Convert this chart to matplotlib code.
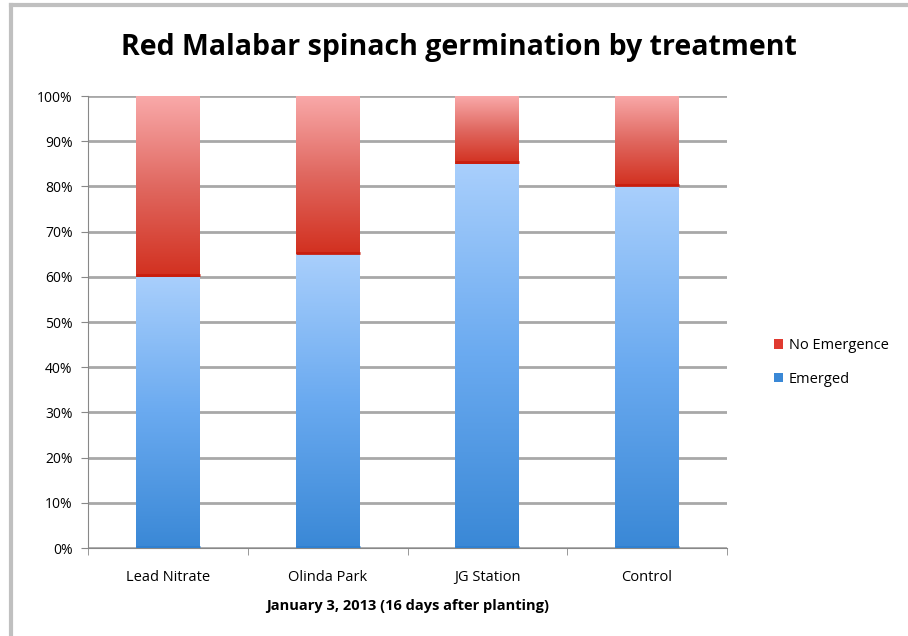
import numpy as np
import matplotlib.pyplot as plt
from matplotlib.colors import LinearSegmentedColormap
from matplotlib.lines import Line2D
from matplotlib.patches import Patch
from matplotlib.ticker import PercentFormatter

categories = ['Lead Nitrate', 'Olinda Park', 'JG Station', 'Control']
emerged = [60, 65, 85, 80]
no_emergence = [40, 35, 15, 20]

blue_cmap = LinearSegmentedColormap.from_list('blue', ['#3a88d6', '#6aaaf0', '#a9cffc'])
red_cmap = LinearSegmentedColormap.from_list('red', ['#d2301f', '#e06860', '#f9a9a9'])

plt.rcParams['font.family'] = ['Open Sans', 'DejaVu Sans']

fig = plt.figure(figsize=(9.08, 6.36), dpi=100)
ax = fig.add_axes([88 / 908, 1 - 548 / 636, 639 / 908, 452 / 636])

x = np.arange(len(categories))
width = 0.4
b1 = ax.bar(x, emerged, width, color='none', edgecolor='none', zorder=3)
b2 = ax.bar(x, no_emergence, width, bottom=emerged, color='none',
            edgecolor='none', zorder=3)

grad = np.linspace(0, 1, 256).reshape(-1, 1)


def fill_gradient(bars, cmap, edge):
    for p in bars:
        x0, y0 = p.get_x(), p.get_y()
        w, h = p.get_width(), p.get_height()
        im = ax.imshow(grad, cmap=cmap, origin='lower', aspect='auto',
                       extent=(x0, x0 + w, y0, y0 + h), zorder=3)
        im.set_clip_path(p)
        ax.plot([x0, x0 + w], [y0 + 0.3, y0 + 0.3], color=edge, lw=2,
                zorder=4, solid_capstyle='butt')


fill_gradient(b1, blue_cmap, '#2f80d0')
fill_gradient(b2, red_cmap, '#c81e0e')

ax.set_xlim(-0.5, len(categories) - 0.5)
ax.set_ylim(0, 100)
ax.set_yticks(np.arange(0, 101, 10))
ax.yaxis.set_major_formatter(PercentFormatter(decimals=0))
ax.yaxis.grid(True, color='#a8a8a8', lw=2)
ax.set_axisbelow(True)

ax.set_xticks(x)
ax.set_xticklabels(categories, fontsize=10.5)
ax.set_xticks(np.arange(-0.5, len(categories)), minor=True)
ax.tick_params(axis='x', which='major', length=0, pad=16)
ax.tick_params(axis='x', which='minor', length=5, color='#888888')
ax.tick_params(axis='y', length=5, color='#888888', labelsize=10, pad=6)

for s in ['top', 'right']:
    ax.spines[s].set_visible(False)
ax.spines['left'].set_color('#888888')
ax.spines['bottom'].set_color('#888888')

ax.set_xlabel('January 3, 2013 (16 days after planting)', fontsize=10.5,
              fontweight='bold', labelpad=10)
fig.text(0.505, 0.925, 'Red Malabar spinach germination by treatment',
         ha='center', va='center', fontsize=20.5, fontweight='bold')

handles = [Patch(facecolor='#e03a30', label='No Emergence'),
           Patch(facecolor='#3a88d6', label='Emerged')]
fig.legend(handles=handles, loc='center left', bbox_to_anchor=(0.838, 0.43),
           frameon=False, fontsize=10.5, handlelength=0.6, handleheight=0.6,
           handletextpad=0.4, labelspacing=1.3)

fig.add_artist(Line2D([11 / 908, 1], [1 - 5 / 636, 1 - 5 / 636],
                      color='#c0c0c0', lw=3, transform=fig.transFigure))
fig.add_artist(Line2D([11 / 908, 11 / 908], [0, 1 - 5 / 636],
                      color='#c0c0c0', lw=3, transform=fig.transFigure))

plt.savefig('out.png', dpi=100)
